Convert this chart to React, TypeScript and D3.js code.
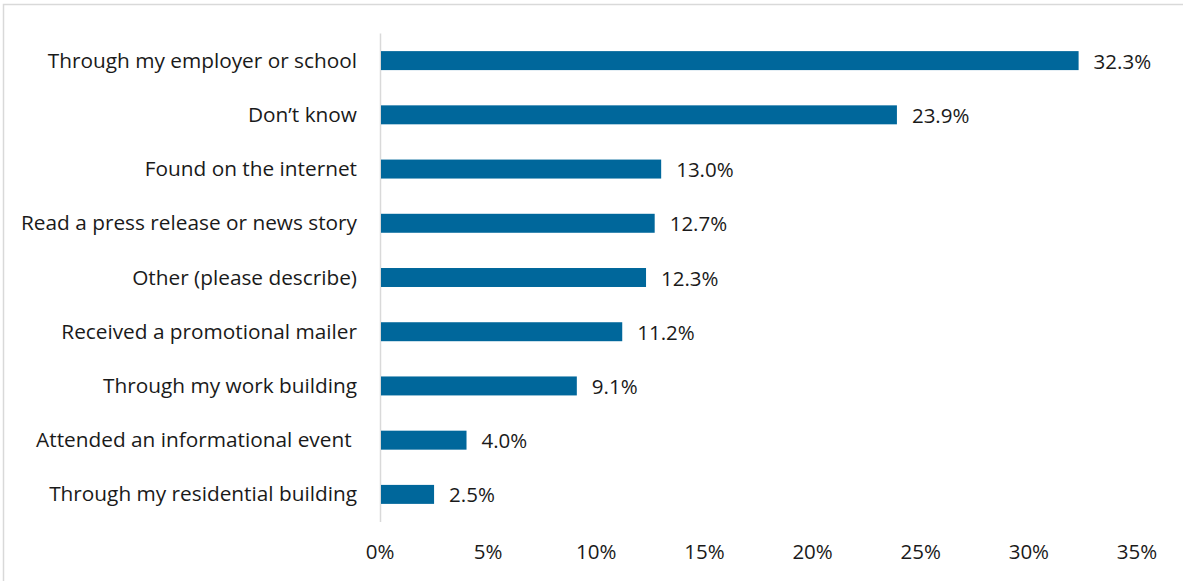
import React, { useEffect, useRef } from 'react';
import * as d3 from 'd3';

const categories = [
    'Through my employer or school',
    'Don\u2019t know',
    'Found on the internet',
    'Read a press release or news story',
    'Other (please describe)',
    'Received a promotional mailer',
    'Through my work building',
    'Attended an informational event ',
    'Through my residential building',
];
const values = [32.3, 23.9, 13.0, 12.7, 12.3, 11.2, 9.1, 4.0, 2.5];
const ticks = [0, 5, 10, 15, 20, 25, 30, 35];

const App: React.FC = () => {
    const svgRef = useRef<SVGSVGElement>(null);

    useEffect(() => {
        if (!svgRef.current) return;
        const svg = d3.select(svgRef.current);
        svg.selectAll('*').remove();

        const width = 1183;
        const height = 581;
        const font = '"Open Sans", sans-serif';

        // outer border
        svg.append('rect')
            .attr('x', 3.5).attr('y', 4.5)
            .attr('width', width + 10).attr('height', height + 10)
            .attr('fill', 'white')
            .attr('stroke', '#d9d9d9')
            .attr('stroke-width', 1.5);

        const x = d3.scaleLinear().domain([0, 35]).range([380, 1137]);
        const y = d3.scaleBand<string>()
            .domain(categories)
            .range([33.5, 521.5])
            .paddingInner(0.65)
            .paddingOuter(0.325);

        // axis line
        svg.append('line')
            .attr('x1', 380.5).attr('x2', 380.5)
            .attr('y1', 33.5).attr('y2', 522)
            .attr('stroke', '#d9d9d9')
            .attr('stroke-width', 1.5);

        // bars
        svg.selectAll('rect.bar')
            .data(values)
            .enter()
            .append('rect')
            .attr('class', 'bar')
            .attr('x', x(0) + 1)
            .attr('y', (_d, i) => y(categories[i]) as number)
            .attr('width', d => x(d) - x(0) - 1)
            .attr('height', y.bandwidth())
            .attr('fill', '#00679b');

        // value labels
        svg.selectAll('text.val')
            .data(values)
            .enter()
            .append('text')
            .attr('x', d => x(d) + 15)
            .attr('y', (_d, i) => (y(categories[i]) as number) + y.bandwidth() / 2)
            .attr('dominant-baseline', 'central')
            .attr('font-family', font)
            .attr('font-size', 20.5)
            .attr('fill', '#1a1a1a')
            .text(d => d.toFixed(1) + '%');

        // category labels
        svg.selectAll('text.cat')
            .data(categories)
            .enter()
            .append('text')
            .attr('x', 357)
            .attr('y', d => (y(d) as number) + y.bandwidth() / 2 - 1)
            .attr('text-anchor', 'end')
            .attr('dominant-baseline', 'central')
            .attr('font-family', font)
            .attr('font-size', 20.8)
            .attr('fill', '#1a1a1a')
            .style('white-space', 'pre')
            .text(d => d);

        // x tick labels
        svg.selectAll('text.tick')
            .data(ticks)
            .enter()
            .append('text')
            .attr('x', d => x(d))
            .attr('y', 551)
            .attr('text-anchor', 'middle')
            .attr('dominant-baseline', 'central')
            .attr('font-family', font)
            .attr('font-size', 20.5)
            .attr('fill', '#1a1a1a')
            .text(d => d + '%');
    }, []);

    return (
        <svg
            ref={svgRef}
            width={1183}
            height={581}
            style={{ position: 'absolute', left: 0, top: 0, background: 'white' }}
        ></svg>
    );
};

export default App;
